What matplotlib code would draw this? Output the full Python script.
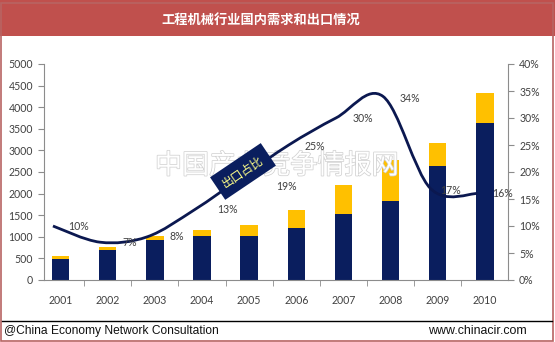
"""
Construction machinery: domestic demand + exports (stacked bars) and export share (smoothed line), 2001-2010.
Output: out.png (555x342)
"""
import matplotlib
matplotlib.use('Agg')
import matplotlib.pyplot as plt
import matplotlib.patheffects as pe
from matplotlib.path import Path
from matplotlib.patches import PathPatch, Rectangle
from matplotlib.lines import Line2D

plt.rcParams['font.family'] = ['Lato', 'Noto Sans CJK SC', 'DejaVu Sans']

# ─── data ───
years = ['2001', '2002', '2003', '2004', '2005', '2006', '2007', '2008', '2009', '2010']
domestic = [495, 705, 930, 1010, 1020, 1210, 1530, 1820, 2630, 3640]
exports = [55, 55, 80, 155, 245, 400, 660, 950, 530, 700]
share = [10, 7, 8, 13, 19, 25, 30, 34, 17, 16]
share_labels = ['10%', '7%', '8%', '13%', '19%', '25%', '30%', '34%', '17%', '16%']
left_ticks = [0, 500, 1000, 1500, 2000, 2500, 3000, 3500, 4000, 4500, 5000]
right_ticks = [0, 5, 10, 15, 20, 25, 30, 35, 40]

NAVY = '#0A1E5E'
LINE = '#0B1850'
GOLD = '#FFC000'
RED = '#C0504D'
AX_GRAY = '#8C8C8C'
TXT = '#404040'

W, H = 555, 342
fig = plt.figure(figsize=(W / 100, H / 100), dpi=100, facecolor='white')


def px(x0, y0, x1, y1):
    """pixel box (top-left origin) -> figure-fraction rect"""
    return [x0 / W, 1 - y1 / H, (x1 - x0) / W, (y1 - y0) / H]


# title bar + frame
fig.patches.append(Rectangle((0, 1 - 36 / H), 1, 36 / H, transform=fig.transFigure,
                             fc=RED, ec='none', zorder=0))
fig.patches.append(Rectangle((1.2 / W, 1.5 / H), (552.5 - 1.2) / W, 1 - 1.5 / H - 0.01,
                             transform=fig.transFigure, fc='none', ec='#B86462', lw=1.2, zorder=0))
fig.text(261 / W, 1 - 20 / H, '工程机械行业国内需求和出口情况', color='white', fontsize=9.5,
         fontweight='bold', ha='center', va='center', family=['Noto Sans CJK SC', 'DejaVu Sans'])

# footer
fig.lines.append(Line2D([2 / W, 552 / W], [1 - 320.5 / H] * 2, transform=fig.transFigure,
                        color='black', lw=1))
fig.text(4 / W, 1 - 331 / H, '@China Economy Network Consultation', fontsize=8.65,
         family='Liberation Sans', color='#111111', ha='left', va='center')
fig.text(527 / W, 1 - 331 / H, 'www.chinacir.com', fontsize=8.9,
         family='Liberation Sans', color='#111111', ha='right', va='center')

# ─── main axes ───
ax = fig.add_axes(px(44, 64, 508, 280))
x = list(range(len(years)))
ax.bar(x, domestic, width=0.37, color=NAVY, zorder=2)
ax.bar(x, exports, width=0.37, bottom=domestic, color=GOLD, zorder=2)
ax.set_xlim(-0.35, 9.49)
ax.set_ylim(0, 5000)
ax.set_yticks(left_ticks)
ax.set_xticks(x)
ax.set_xticklabels(years)
ax.set_xticks([i + 0.5 for i in range(len(years) - 1)], minor=True)
ax.tick_params(axis='x', which='major', length=0, pad=11, labelsize=7.6, labelcolor=TXT)
ax.tick_params(axis='x', which='minor', length=4, color=AX_GRAY, direction='out')
ax.tick_params(axis='y', length=4, color=AX_GRAY, pad=4, labelsize=7.6, labelcolor=TXT)
for s in ['top', 'right']:
    ax.spines[s].set_visible(False)
for s in ['left', 'bottom']:
    ax.spines[s].set_color(AX_GRAY)
    ax.spines[s].set_linewidth(0.8)

# ─── export share on the right axis ───
ax2 = ax.twinx()
ax2.set_ylim(0, 40)
ax2.set_yticks(right_ticks)
ax2.set_yticklabels([f'{t}%' for t in right_ticks])
ax2.tick_params(axis='y', length=4, color=AX_GRAY, pad=4, labelsize=7.6, labelcolor=TXT)
for s in ['top', 'left', 'bottom']:
    ax2.spines[s].set_visible(False)
ax2.spines['right'].set_color(AX_GRAY)
ax2.spines['right'].set_linewidth(0.8)

# watermark (under the line and labels)
ax2.text(277 / W, 1 - 166 / H, '中国产业竞争情报网', transform=fig.transFigure, fontsize=19.5,
         color='white', ha='center', va='center', zorder=1,
         family=['Noto Sans CJK SC', 'DejaVu Sans'],
         path_effects=[pe.Stroke(linewidth=1.1, foreground='#D2D2D2'), pe.Normal()])

# smoothed line (Catmull-Rom through the data points, like Excel's smoothed line)
lx = [i - 0.16 for i in x]
pts = list(zip(lx, share))
verts, codes = [pts[0]], [Path.MOVETO]
for i in range(len(pts) - 1):
    p0 = pts[max(i - 1, 0)]
    p1, p2 = pts[i], pts[i + 1]
    p3 = pts[min(i + 2, len(pts) - 1)]
    c1 = (p1[0] + (p2[0] - p0[0]) / 6, p1[1] + (p2[1] - p0[1]) / 6)
    c2 = (p2[0] - (p3[0] - p1[0]) / 6, p2[1] - (p3[1] - p1[1]) / 6)
    verts += [c1, c2, p2]
    codes += [Path.CURVE4] * 3
ax2.add_patch(PathPatch(Path(verts, codes), fc='none', ec=LINE, lw=2, zorder=3))

# data labels, right of each category
offsets = [(18, 0), (22, 0), (22, 0), (26, 0), (37, -9), (19, -2), (19, -1), (19, -2), (13, -2), (18, 0)]
for i, (lab, (dx, dy)) in enumerate(zip(share_labels, offsets)):
    ax2.annotate(lab, (i, share[i]), xytext=(dx, dy), textcoords='offset pixels',
                 ha='center', va='center', fontsize=7.6, color=TXT, zorder=4)

# callout box on the line
ax2.text(3.87, 20.1, '出口占比', rotation=34, rotation_mode='anchor', ha='center', va='center',
         fontsize=8.5, color='#FFFF88', family=['Noto Sans CJK SC', 'DejaVu Sans'], zorder=6,
         bbox=dict(boxstyle='square,pad=0.6', fc=NAVY, ec='none'))

fig.savefig('out.png', dpi=100, facecolor='white')
